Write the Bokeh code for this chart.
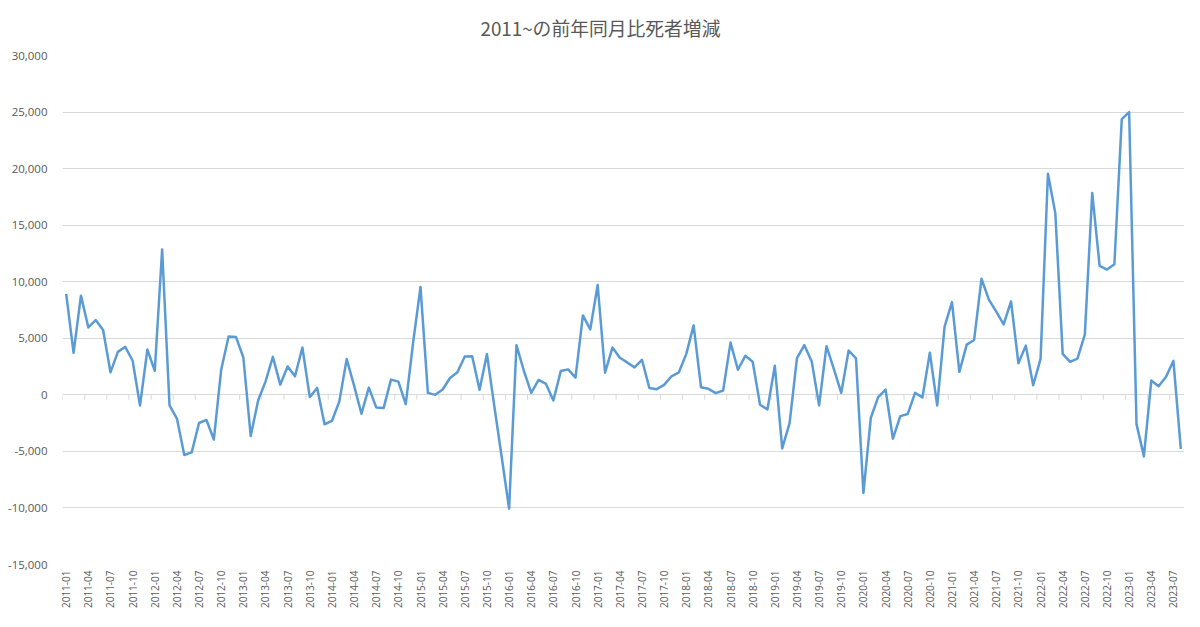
import math
from bokeh.plotting import figure
from bokeh.models import FixedTicker, Range1d, ColumnDataSource, NumeralTickFormatter
from bokeh.embed import file_html
from bokeh.resources import INLINE

years = list(range(2011, 2024))
months = [f"{y}-{m:02d}" for y in years for m in range(1, 13)][:152]

values = [
    8920, 3710, 8770, 5960, 6610, 5730, 1990, 3800, 4240, 3010, -940, 4000,
    2130, 12850, -940, -2100, -5320, -5090, -2490, -2220, -3950, 2220, 5150, 5120,
    3300, -3650, -500, 1170, 3360, 900, 2510, 1640, 4180, -200, 610, -2600,
    -2310, -585, 3160, 820, -1670, 640, -1110, -1170, 1345, 1170, -820, 4620,
    9530, 175, 0, 470, 1490, 1990, 3390, 3420, 440, 3600, -1000, -5500,
    -10060, 4390, 2130, 175, 1315, 965, -500, 2100, 2250, 1520, 7020, 5790,
    9710, 1960, 4180, 3275, 2865, 2430, 3100, 610, 500, 880, 1640, 1990,
    3600, 6140, 670, 530, 146, 380, 4620, 2220, 3450, 2920, -880, -1290,
    2570, -4740, -2510, 3245, 4390, 2950, -935, 4300, 2280, 175, 3920, 3215,
    -8680, -2050, -200, 470, -3880, -1880, -1700, 176, -235, 3730, -940, 6030,
    8200, 2030, 4440, 4850, 10260, 8410, 7350, 6230, 8260, 2790, 4350, 850,
    3175, 19550, 16050, 3620, 2910, 3200, 5350, 17850, 11400, 11080, 11550, 24370,
    24990, -2590, -5440, 1260, 760, 1590, 3000, -4790,
]

y_ticks = [-15000, -10000, -5000, 0, 5000, 10000, 15000, 20000, 25000, 30000]
title_text = "2011~の前年同月比死者増減"

n = len(values)
idx = list(range(n))
src = ColumnDataSource(dict(x=idx, y=values, m=months))

W, H = 1184, 611
BL, BR, BT, BB = 62, 0, 53, 46
FRAME_H = H - BT - BB

p = figure(width=W, height=H, output_backend="svg", toolbar_location=None,
           x_range=Range1d(-0.5, n - 0.5), y_range=Range1d(y_ticks[0], y_ticks[-1]),
           min_border_left=BL, min_border_right=BR, min_border_top=BT, min_border_bottom=BB)
p.outline_line_color = None
p.background_fill_color = "white"
p.border_fill_color = "white"

p.title.text = title_text
p.title.align = "left"
p.title.offset = 418
p.title.vertical_align = "top"
p.title.standoff = 26
p.title.text_font = "Noto Sans CJK JP"
p.title.text_font_size = "18.8px"
p.title.text_font_style = "normal"
p.title.text_color = "#595959"

p.xgrid.visible = False
p.ygrid.ticker = FixedTicker(ticks=y_ticks)
p.ygrid.grid_line_color = "#d9d9d9"
p.ygrid.grid_line_width = 1

p.yaxis.ticker = FixedTicker(ticks=y_ticks)
p.yaxis.formatter = NumeralTickFormatter(format="0,0")
p.yaxis.axis_line_color = None
p.yaxis.major_tick_line_color = None
p.yaxis.minor_tick_line_color = None
p.yaxis.major_tick_out = 0
p.yaxis.major_tick_in = 0
p.yaxis.major_label_text_font = "Open Sans"
p.yaxis.major_label_text_font_size = "11.5px"
p.yaxis.major_label_text_color = "#595959"
p.yaxis.major_label_standoff = 15

label_ticks = idx[::3]
p.xaxis.ticker = FixedTicker(ticks=label_ticks)
p.xaxis.major_label_overrides = {i: months[i] for i in label_ticks}
p.xaxis.major_label_orientation = math.pi / 2
p.xaxis.axis_line_color = None
p.xaxis.major_tick_line_color = None
p.xaxis.minor_tick_line_color = None
p.xaxis.major_tick_out = 0
p.xaxis.major_tick_in = 0
p.xaxis.major_label_text_font = "Open Sans"
p.xaxis.major_label_text_font_size = "10px"
p.xaxis.major_label_text_color = "#595959"
p.xaxis.major_label_standoff = 6

# small category-boundary tick marks on the zero line (5px long)
tick_len = 5 * (y_ticks[-1] - y_ticks[0]) / FRAME_H
tx = [i - 0.5 for i in range(0, n + 1, 3)]
p.segment(x0=tx, y0=[0] * len(tx), x1=tx, y1=[-tick_len] * len(tx),
          line_color="#d9d9d9", line_width=1)

p.line("x", "y", source=src, line_color="#5B9BD5", line_width=2.5, line_join="round")

open("out.html", "w").write(file_html(p, INLINE))
